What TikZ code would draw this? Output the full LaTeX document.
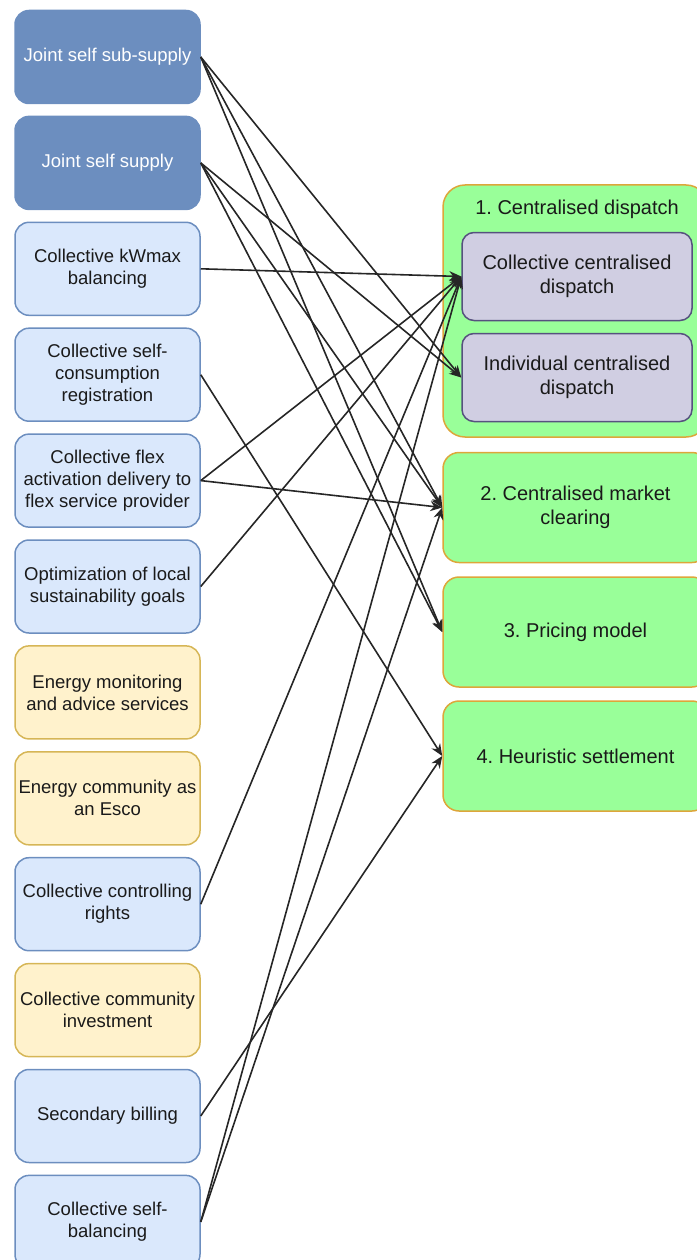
\documentclass[tikz,border=0pt]{standalone}
\usepackage{fontspec}
\setmainfont{Liberation Sans}
\usetikzlibrary{arrows.meta}
\frenchspacing
\definecolor{dkblue}{HTML}{6C8EBF}
\definecolor{ltblue}{HTML}{DAE8FC}
\definecolor{ltorange}{HTML}{FFF2CC}
\definecolor{orline}{HTML}{D6B656}
\definecolor{grfill}{HTML}{99FF99}
\definecolor{grline}{HTML}{DDA63A}
\definecolor{pufill}{HTML}{D0CEE2}
\definecolor{puline}{HTML}{56517E}
\definecolor{txt}{HTML}{1A1A1A}
\begin{document}
\begin{tikzpicture}[x=1pt,y=-1pt,
  box/.style={rectangle, rounded corners=14pt, line width=1.5pt, minimum width=185pt, minimum height=93pt, align=center, inner sep=0pt, font=\fontsize{18.5}{22}\selectfont},
  dark/.style={box, fill=dkblue, draw=dkblue, text=white},
  light/.style={box, fill=ltblue, draw=dkblue, text=txt},
  warm/.style={box, fill=ltorange, draw=orline, text=txt},
  gbox/.style={rectangle, rounded corners=16pt, line width=1.5pt, fill=grfill, draw=grline, minimum width=265pt, minimum height=110pt, align=center, inner sep=0pt, text=txt, font=\fontsize{20}{24}\selectfont},
  pbox/.style={rectangle, rounded corners=12pt, line width=1.5pt, fill=pufill, draw=puline, minimum width=230pt, minimum height=88pt, align=center, inner sep=0pt, text=txt, font=\fontsize{20}{24}\selectfont},
  conn/.style={line width=1.6pt, draw=black!85, -{Stealth[length=12pt,width=10pt]}}
]
\useasboundingbox (0,0) rectangle (696,1260);
% left column
\node[dark]  (n1)  at (107.5,57)     {Joint self sub-supply};
\node[dark]  (n2)  at (107.5,162.9)  {Joint self supply};
\node[light] (n3)  at (107.5,268.8)  {Collective kWmax\\balancing};
\node[light] (n4)  at (107.5,374.7)  {Collective self-\\consumption\\registration};
\node[light] (n5)  at (107.5,480.6)  {Collective flex\\activation delivery to\\flex service provider};
\node[light] (n6)  at (107.5,586.5)  {Optimization of local\\sustainability goals};
\node[warm]  (n7)  at (107.5,692.4)  {Energy monitoring\\and advice services};
\node[warm]  (n8)  at (107.5,798.3)  {Energy community as\\an Esco};
\node[light] (n9)  at (107.5,904.2)  {Collective controlling\\rights};
\node[warm]  (n10) at (107.5,1010.1) {Collective community\\investment};
\node[light] (n11) at (107.5,1116)   {Secondary billing};
\node[light] (n12) at (107.5,1221.9) {Collective self-\\balancing};
% right column
\node[gbox, rounded corners=22pt, minimum height=252pt] (cd) at (575.5,311) {};
\node[text=txt, font=\fontsize{20}{24}\selectfont, inner sep=0pt] (cdt) at (577,209) {1. Centralised dispatch};
\node[pbox] (ccd) at (577,276.5) {Collective centralised\\dispatch};
\node[pbox] (icd) at (577,377.5) {Individual centralised\\dispatch};
\node[gbox] (b2) at (575.5,507.5) {2. Centralised market\\clearing};
\node[gbox] (b3) at (575.5,632)   {3. Pricing model};
\node[gbox] (b4) at (575.5,756)   {4. Heuristic settlement};
% connectors
\draw[conn] (n1.east) -- (icd.west);
\draw[conn] (n1.east) -- (b2.west);
\draw[conn] (n1.east) -- (b3.west);
\draw[conn] (n2.east) -- (icd.west);
\draw[conn] (n2.east) -- (b2.west);
\draw[conn] (n2.east) -- (b3.west);
\draw[conn] (n3.east) -- (ccd.west);
\draw[conn] (n4.east) -- (b4.west);
\draw[conn] (n5.east) -- (ccd.west);
\draw[conn] (n5.east) -- (b2.west);
\draw[conn] (n6.east) -- (ccd.west);
\draw[conn] (n9.east) -- (ccd.west);
\draw[conn] (n11.east) -- (b4.west);
\draw[conn] (n12.east) -- (ccd.west);
\draw[conn] (n12.east) -- (b2.west);
\end{tikzpicture}
\end{document}
